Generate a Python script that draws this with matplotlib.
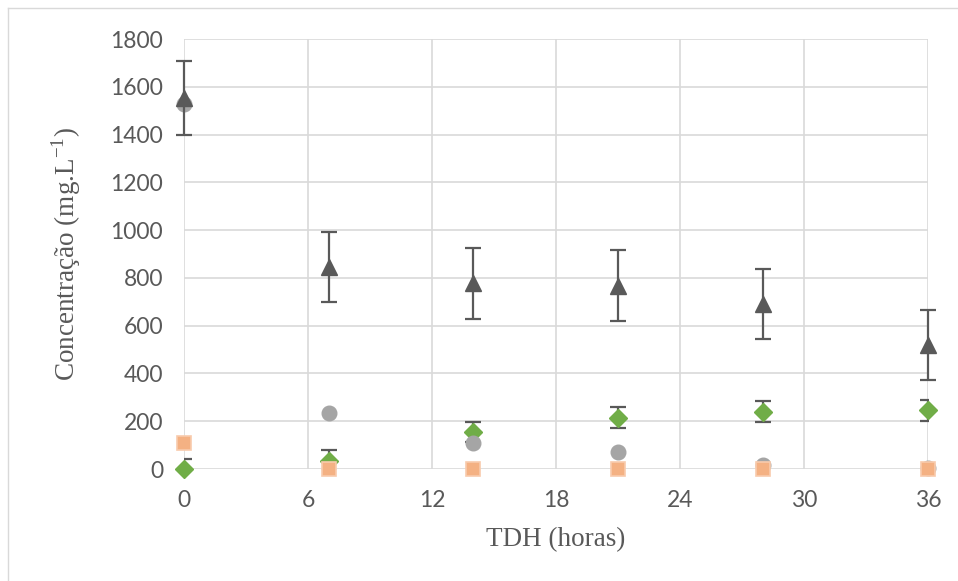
import numpy as np
import matplotlib.pyplot as plt
from matplotlib.lines import Line2D

plt.rcParams['mathtext.fontset'] = 'custom'
plt.rcParams['mathtext.rm'] = 'Liberation Serif'

tdh = [0, 7, 14, 21, 28, 36]
triangulo = [1555, 845, 777, 768, 690, 520]
triangulo_err = [155, 148, 148, 148, 147, 147]
circulo = [1530, 233, 107, 70, 18, 5]
losango = [0, 35, 153, 215, 240, 245]
losango_err = [42, 45, 42, 45, 44, 43]
quadrado = [110, 2, 2, 2, 2, 2]

fig = plt.figure(figsize=(9.58, 5.81), dpi=100)
ax = fig.add_axes([184/958, 1-469/581, (928-184)/958, (469-39)/581])

# borda do grafico
fig.add_artist(Line2D([8/958, 8/958], [0, 1-8/581], color='#d9d9d9', lw=1))
fig.add_artist(Line2D([8/958, 1], [1-8/581, 1-8/581], color='#d9d9d9', lw=1))

ebkw = dict(ecolor='#595959', elinewidth=1.6, capsize=6, capthick=1.6, ls='none')

eb1 = ax.errorbar(tdh, losango, yerr=losango_err, fmt='D', ms=9, color='#70ad47',
                  mec='#70ad47', zorder=3, **ebkw)
eb1[0].set_clip_on(False)
ax.plot(tdh, circulo, 'o', ms=10.5, color='#a5a5a5', zorder=4, clip_on=False)
eb2 = ax.errorbar(tdh, triangulo, yerr=triangulo_err, fmt='^', ms=11,
                  color='#595959', zorder=5, **ebkw)
for art in eb2.get_children():
    art.set_clip_on(False)
ax.plot(tdh, quadrado, 's', ms=10, color='#f4b183', mec='#f8cbad', mew=1.2,
        zorder=6, clip_on=False)

ax.set_xlim(0, 36)
ax.set_ylim(0, 1800)
ax.set_xticks(range(0, 37, 6))
ax.set_yticks(range(0, 1801, 200))
ax.grid(True, color='#d9d9d9', lw=1.2)
ax.set_axisbelow(True)
for s in ax.spines.values():
    s.set_visible(False)
ax.tick_params(length=0, labelsize=16.5, labelcolor='#595959')
ax.tick_params(axis='x', pad=15)
ax.tick_params(axis='y', pad=15)
for lab in ax.get_xticklabels() + ax.get_yticklabels():
    lab.set_family('Lato')

ax.set_xlabel('TDH (horas)', family='Liberation Serif', fontsize=19.5,
              color='#595959', labelpad=12)
ax.set_ylabel(r'Concentração (mg.L$^{-1}$)', family='Liberation Serif',
              fontsize=19.5, color='#595959', labelpad=20)

fig.savefig('out.png', dpi=100)
